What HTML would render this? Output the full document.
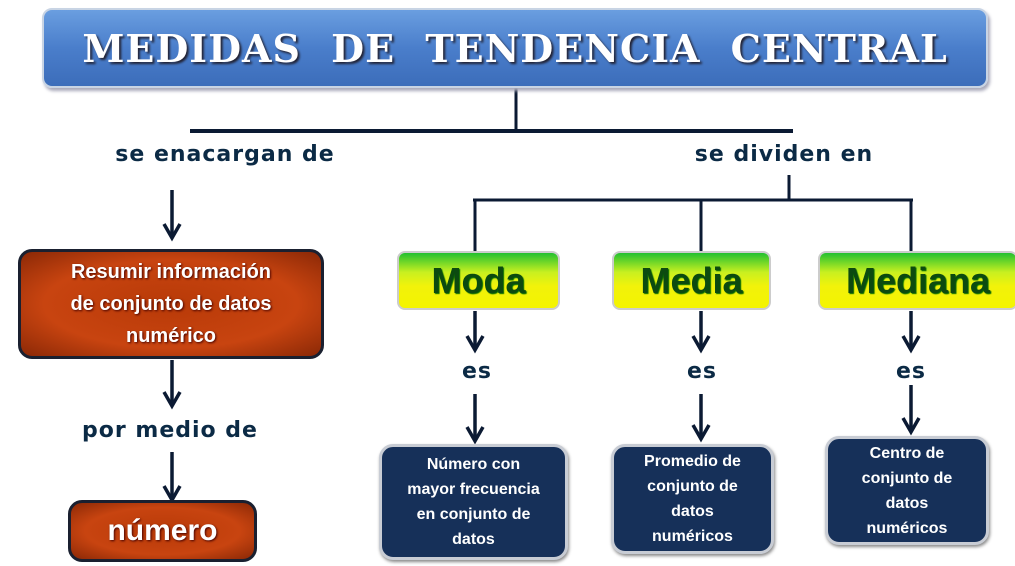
<!DOCTYPE html>
<html><head><meta charset="utf-8"><style>
body{margin:0;width:1015px;height:566px;background:#fff;position:relative;overflow:hidden;font-family:"Liberation Sans",sans-serif}
.a{position:absolute;box-sizing:border-box;display:flex;align-items:center;justify-content:center;text-align:center}
.title{left:42px;top:8px;width:946px;height:80px;border-radius:10px;background:linear-gradient(#6a9ee0,#4a7ecb 50%,#3c6dba);border:2px solid #c8d4e4;box-shadow:2px 3px 3px #aab;color:#fff;font-family:"DejaVu Serif","Liberation Serif",serif;font-weight:bold;font-size:38px;letter-spacing:1px;word-spacing:16px;text-shadow:2px 2px 2px #223}
.lbl{position:absolute;color:#0b2a45;font-family:"DejaVu Sans",sans-serif;font-weight:bold;font-size:22px;letter-spacing:1px;white-space:nowrap;transform:translateX(-50%)}
.or{background:radial-gradient(ellipse at center,#b83a08,#c84410 60%,#8a2806);border:3px solid #1a2030;border-radius:14px;color:#fff;font-weight:bold;text-shadow:1px 1px 2px #400}
.gr{background:linear-gradient(#22c030,#c8f020 35%,#f2f20a 60%,#f4f400);border:2px solid #ccc;border-radius:8px;color:#0c4a10;font-weight:bold;font-size:36px;text-shadow:1px 1px 1px #060}
.bl{background:#163059;border:3px solid #c8ccd4;border-radius:14px;color:#fff;font-weight:bold;font-size:16px;line-height:25px;box-shadow:1px 2px 3px #888}
</style></head><body>
<svg width="1015" height="566" style="position:absolute;left:0;top:0">
<g stroke="#0b1a33" stroke-width="3" fill="none">
<line x1="516" y1="88" x2="516" y2="130"/>
<line x1="190" y1="131" x2="793" y2="131" stroke-width="4"/>
<line x1="789" y1="175" x2="789" y2="200"/>
<line x1="473" y1="200" x2="913" y2="200"/>
<line x1="475" y1="200" x2="475" y2="252"/>
<line x1="701" y1="200" x2="701" y2="252"/>
<line x1="911" y1="200" x2="911" y2="252"/>
<g stroke-width="3.5">
<line x1="172" y1="190" x2="172" y2="237"/><polyline points="164,224 172,238 180,224"/>
<line x1="172" y1="360" x2="172" y2="405"/><polyline points="164,392 172,406 180,392"/>
<line x1="172" y1="452" x2="172" y2="499"/><polyline points="164,486 172,500 180,486"/>
<line x1="475" y1="311" x2="475" y2="349"/><polyline points="467,336 475,350 483,336"/>
<line x1="475" y1="394" x2="475" y2="440"/><polyline points="467,427 475,441 483,427"/>
<line x1="701" y1="311" x2="701" y2="349"/><polyline points="693,336 701,350 709,336"/>
<line x1="701" y1="394" x2="701" y2="438"/><polyline points="693,425 701,439 709,425"/>
<line x1="911" y1="311" x2="911" y2="349"/><polyline points="903,336 911,350 919,336"/>
<line x1="911" y1="385" x2="911" y2="431"/><polyline points="903,418 911,432 919,418"/>
</g>
</g></svg>
<div class="a title">MEDIDAS DE TENDENCIA CENTRAL</div>
<div class="lbl" style="left:225px;top:142px">se enacargan de</div>
<div class="lbl" style="left:784px;top:142px">se dividen en</div>
<div class="lbl" style="left:170px;top:418px">por medio de</div>
<div class="lbl" style="left:477px;top:359px">es</div>
<div class="lbl" style="left:702px;top:359px">es</div>
<div class="lbl" style="left:911px;top:359px">es</div>
<div class="a or" style="left:18px;top:249px;width:306px;height:110px;font-size:20px;line-height:32px">Resumir información<br>de conjunto de datos<br>numérico</div>
<div class="a or" style="left:68px;top:500px;width:189px;height:62px;font-size:30px">número</div>
<div class="a gr" style="left:397px;top:251px;width:163px;height:59px">Moda</div>
<div class="a gr" style="left:612px;top:251px;width:159px;height:59px">Media</div>
<div class="a gr" style="left:818px;top:251px;width:200px;height:59px">Mediana</div>
<div class="a bl" style="left:379px;top:444px;width:189px;height:116px">Número con<br>mayor frecuencia<br>en conjunto de<br>datos</div>
<div class="a bl" style="left:611px;top:444px;width:163px;height:110px">Promedio de<br>conjunto de<br>datos<br>numéricos</div>
<div class="a bl" style="left:825px;top:436px;width:164px;height:109px">Centro de<br>conjunto de<br>datos<br>numéricos</div>
</body></html>
